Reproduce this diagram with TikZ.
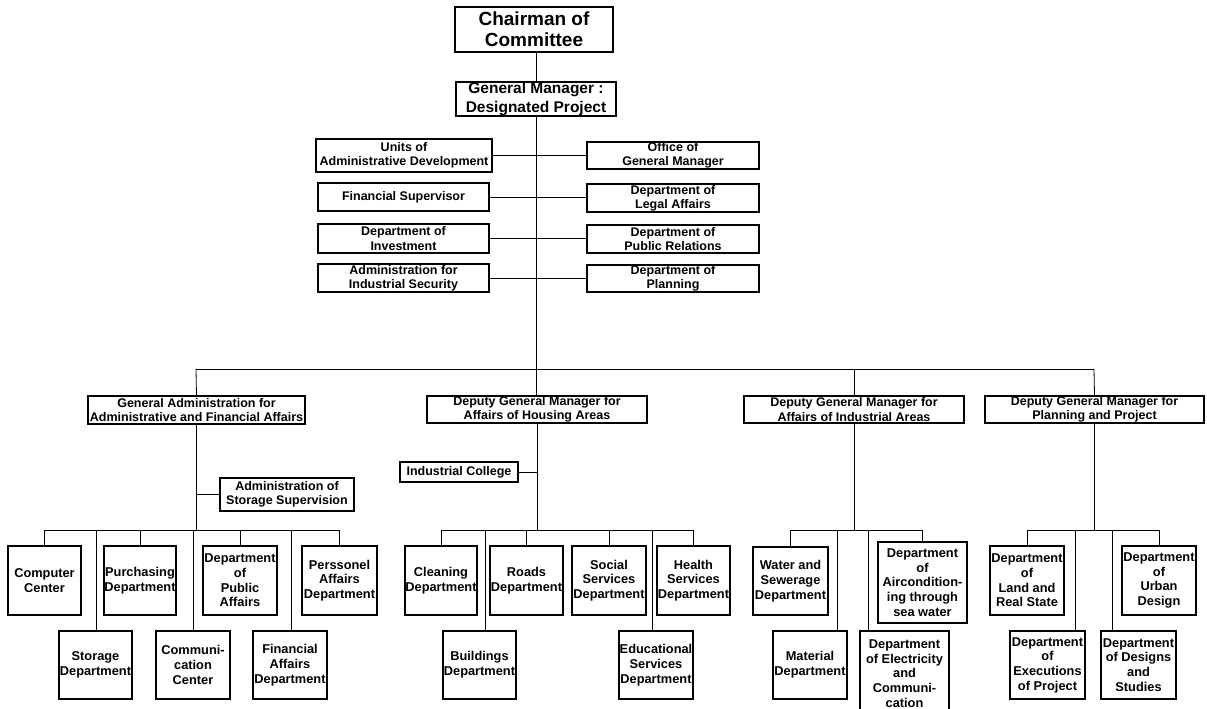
\documentclass[tikz,border=0pt]{standalone}
\usepackage{fontspec}
\setmainfont{Liberation Sans}
\newcommand\orgbox[7][]{\node[box,#1,minimum width={(#5-#3)*1pt},minimum height={(#6-#4)*1pt}] (#2) at ({(#3+#5)/2},{(#4+#6)/2}) {#7};}
\begin{document}
\begin{tikzpicture}[x=1pt,y=-1pt,
  box/.style={draw, line width=1.1pt, inner sep=0pt, align=center, font=\bfseries\fontsize{12.5}{14.4}\selectfont},
  unit/.style={font=\bfseries\fontsize{12.8}{14.7}\selectfont},
  big/.style={font=\bfseries\fontsize{19}{21}\selectfont},
  mid/.style={font=\bfseries\fontsize{15.5}{18.5}\selectfont},
  ln/.style={line width=0.8pt}]
\useasboundingbox (0,0) rectangle (1207,709);
% top
\orgbox[big]{chair}{455}{7}{613}{52}{Chairman of\\Committee}
\orgbox[mid]{gm}{456}{82}{616}{116}{General Manager :\\Designated Project}
% staff
\orgbox{units}{316}{139}{492}{172}{Units of\\Administrative Development}
\orgbox{office}{587}{142}{759}{169}{Office of\\General Manager}
\orgbox{finsup}{318}{183}{489}{211}{Financial Supervisor}
\orgbox{legal}{587}{184}{759}{212}{Department of\\Legal Affairs}
\orgbox{invest}{318}{224}{489}{253}{Department of\\Investment}
\orgbox{pubrel}{587}{225}{759}{253}{Department of\\Public Relations}
\orgbox{indsec}{318}{264}{489}{292}{Administration for\\Industrial Security}
\orgbox{plandep}{587}{265}{759}{292}{Department of\\Planning}
% deputies
\orgbox{genadm}{88}{396}{305}{424}{General Administration for\\Administrative and Financial Affairs}
\orgbox{housing}{427}{396}{647}{423}{Deputy General Manager for\\Affairs of Housing Areas}
\orgbox{indus}{744}{396}{964}{423}{Deputy General Manager for\\Affairs of Industrial Areas}
\orgbox{planproj}{985}{396}{1204}{423}{Deputy General Manager for\\Planning and Project}
% group A
\orgbox{stsup}{220}{478}{354}{511}{Administration of\\Storage Supervision}
\orgbox[unit]{comp}{8}{546}{81}{615}{Computer\\Center}
\orgbox[unit]{purch}{104}{546}{176}{615}{Purchasing\\Department}
\orgbox[unit]{pubaff}{203}{546}{277}{615}{Department\\of\\Public\\Affairs}
\orgbox[unit]{pers}{302}{546}{377}{615}{Perssonel\\Affairs\\Department}
\orgbox[unit]{stor}{59}{631}{132}{699}{Storage\\Department}
\orgbox[unit]{comm}{156}{631}{230}{699}{Communi-\\cation\\Center}
\orgbox[unit]{finaff}{253}{631}{327}{699}{Financial\\Affairs\\Department}
% group B
\orgbox{college}{400}{462}{518}{482}{Industrial College}
\orgbox[unit]{clean}{405}{546}{477}{615}{Cleaning\\Department}
\orgbox[unit]{roads}{490}{546}{563}{615}{Roads\\Department}
\orgbox[unit]{social}{572}{546}{646}{615}{Social\\Services\\Department}
\orgbox[unit]{health}{657}{546}{730}{615}{Health\\Services\\Department}
\orgbox[unit]{build}{443}{631}{516}{699}{Buildings\\Department}
\orgbox[unit]{educ}{619}{631}{693}{699}{Educational\\Services\\Department}
% group C
\orgbox[unit]{water}{753}{547}{828}{615}{Water and\\Sewerage\\Department}
\orgbox[unit]{aircon}{878}{542}{967}{623}{Department\\of\\Aircondition-\\ing through\\sea water}
\orgbox[unit]{material}{773}{631}{847}{699}{Material\\Department}
\orgbox[unit]{elec}{860}{631}{949}{716}{Department\\of Electricity\\and\\Communi-\\cation}
% group D
\orgbox[unit]{land}{990}{546}{1064}{615}{Department\\of\\Land and\\Real State}
\orgbox[unit]{urban}{1122}{546}{1196}{615}{Department\\of\\Urban\\Design}
\orgbox[unit]{exec}{1010}{631}{1085}{699}{Department\\of\\Executions\\of Project}
\orgbox[unit]{design}{1101}{631}{1176}{699}{Department\\of Designs\\and\\Studies}
% coordinates
\coordinate (busL) at (196,369);
\coordinate (busR) at (1094,369);
\coordinate (busA) at (0,530);
\coordinate (dStor) at (96,530);
\coordinate (dComm) at (193,530);
\coordinate (dFin) at (291,530);
\coordinate (dBuild) at (485,530);
\coordinate (dEduc) at (652,530);
\coordinate (dMat) at (837,530);
\coordinate (dElec) at (868,530);
\coordinate (dExec) at (1075,530);
\coordinate (dDes) at (1112,530);
% main connectors
\draw[ln] (gm.north |- chair.south) -- (gm.north);
\draw[ln] (gm.south) -- (gm.south |- housing.north);
\draw[ln] (units.east) -- (units.east -| office.west);
\draw[ln] (finsup.east) -- (finsup.east -| legal.west);
\draw[ln] (invest.east) -- (invest.east -| pubrel.west);
\draw[ln] (indsec.east) -- (indsec.east -| plandep.west);
\draw[ln] (busL) -- (busR);
\draw[ln] (busL) -- (genadm.north);
\draw[ln] (indus.north |- busL) -- (indus.north);
\draw[ln] (busR) -- (planproj.north);
% group A
\draw[ln] (genadm.south) -- (genadm.south |- busA);
\draw[ln] (stsup.west) -- (stsup.west -| genadm.south);
\draw[ln] (comp.north |- busA) -- (pers.north |- busA);
\draw[ln] (comp.north |- busA) -- (comp.north);
\draw[ln] (purch.north |- busA) -- (purch.north);
\draw[ln] (pubaff.north |- busA) -- (pubaff.north);
\draw[ln] (pers.north |- busA) -- (pers.north);
\draw[ln] (dStor) -- (dStor |- stor.north);
\draw[ln] (dComm) -- (dComm |- comm.north);
\draw[ln] (dFin) -- (dFin |- finaff.north);
% group B
\draw[ln] (housing.south) -- (housing.south |- busA);
\draw[ln] (college.east) -- (college.east -| housing.south);
\draw[ln] (clean.north |- busA) -- (health.north |- busA);
\draw[ln] (clean.north |- busA) -- (clean.north);
\draw[ln] (roads.north |- busA) -- (roads.north);
\draw[ln] (social.north |- busA) -- (social.north);
\draw[ln] (health.north |- busA) -- (health.north);
\draw[ln] (dBuild) -- (dBuild |- build.north);
\draw[ln] (dEduc) -- (dEduc |- educ.north);
% group C
\draw[ln] (indus.south) -- (indus.south |- busA);
\draw[ln] (water.north |- busA) -- (aircon.north |- busA);
\draw[ln] (water.north |- busA) -- (water.north);
\draw[ln] (aircon.north |- busA) -- (aircon.north);
\draw[ln] (dMat) -- (dMat |- material.north);
\draw[ln] (dElec) -- (dElec |- elec.north);
% group D
\draw[ln] (planproj.south) -- (planproj.south |- busA);
\draw[ln] (land.north |- busA) -- (urban.north |- busA);
\draw[ln] (land.north |- busA) -- (land.north);
\draw[ln] (urban.north |- busA) -- (urban.north);
\draw[ln] (dExec) -- (dExec |- exec.north);
\draw[ln] (dDes) -- (dDes |- design.north);
\end{tikzpicture}
\end{document}
